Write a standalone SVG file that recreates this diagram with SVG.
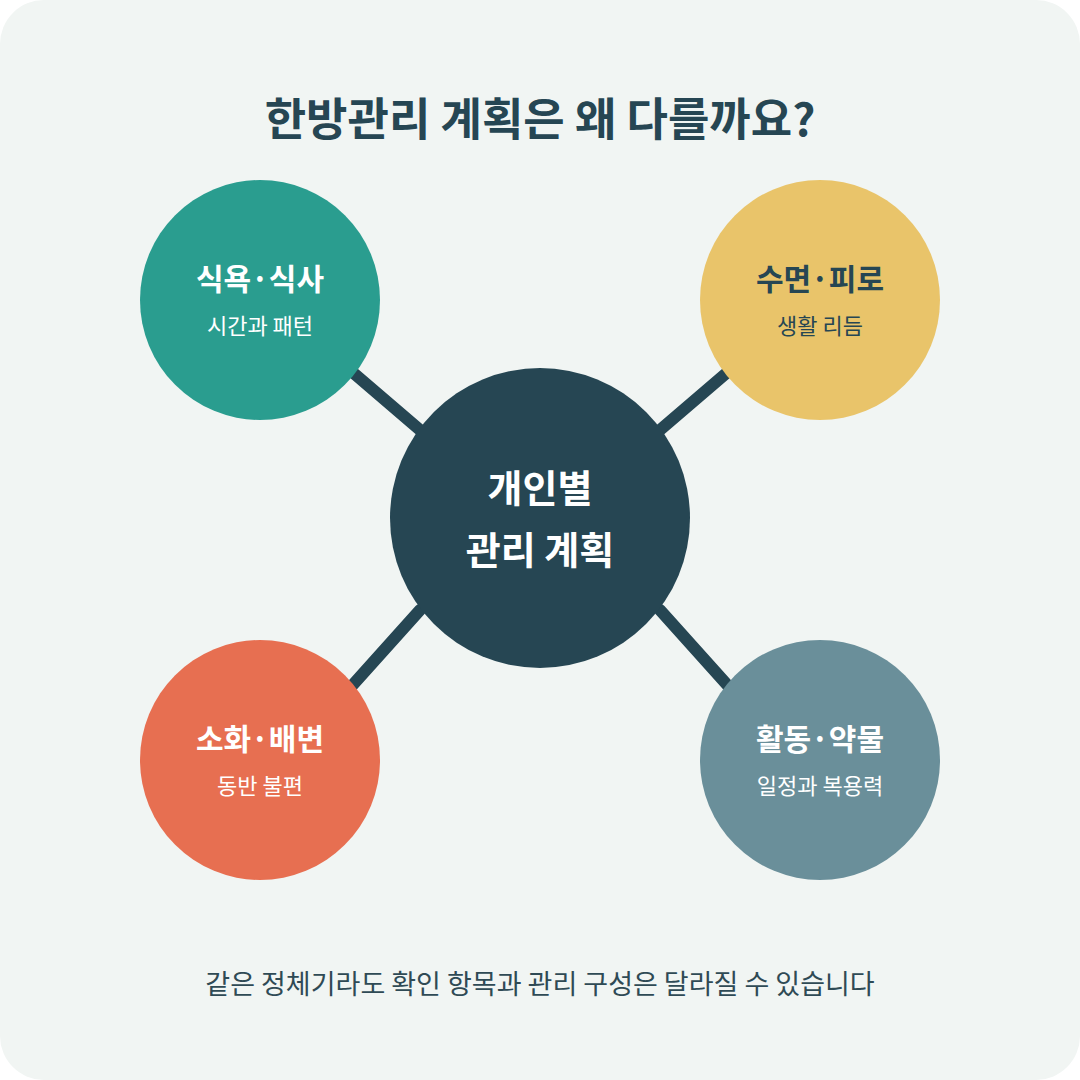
<svg xmlns="http://www.w3.org/2000/svg" width="1080" height="1080" viewBox="0 0 1080 1080">
<style>
text{font-family:"Noto Sans CJK KR","Noto Sans",sans-serif;text-anchor:middle}
.t{font-size:30px;font-weight:700}
.s{font-size:22px}
.w{fill:#fff}
.d{fill:#264653}
</style>
<rect width="1080" height="1080" fill="#fff"/>
<rect width="1080" height="1080" rx="44" fill="#f1f5f3"/>
<text x="540" y="136" font-size="45" font-weight="700" fill="#264653">한방관리 계획은 왜 다를까요?</text>
<g id="connectors" stroke="#264653" stroke-width="12" stroke-linecap="round">
<line x1="350" y1="370" x2="420" y2="430"/>
<line x1="730" y1="370" x2="660" y2="430"/>
<line x1="350" y1="688" x2="420" y2="610"/>
<line x1="730" y1="688" x2="660" y2="610"/>
</g>
<g id="center"><circle cx="540" cy="518" r="150" fill="#264653"/>
<text x="540" y="502" font-size="38" font-weight="700" class="w">개인별</text>
<text x="540" y="564" font-size="38" font-weight="700" class="w">관리 계획</text></g>
<g id="n1"><circle cx="260" cy="300" r="120" fill="#2a9d8f"/>
<text x="260" y="290" class="t w">식욕·식사</text><text x="260" y="334" class="s w">시간과 패턴</text></g>
<g id="n2"><circle cx="820" cy="300" r="120" fill="#e9c46a"/>
<text x="820" y="290" class="t d">수면·피로</text><text x="820" y="334" class="s d">생활 리듬</text></g>
<g id="n3"><circle cx="260" cy="760" r="120" fill="#e76f51"/>
<text x="260" y="750" class="t w">소화·배변</text><text x="260" y="794" class="s w">동반 불편</text></g>
<g id="n4"><circle cx="820" cy="760" r="120" fill="#6a8f9a"/>
<text x="820" y="750" class="t w">활동·약물</text><text x="820" y="794" class="s w">일정과 복용력</text></g>
<text x="540" y="994" font-size="27" fill="#2f4a55">같은 정체기라도 확인 항목과 관리 구성은 달라질 수 있습니다</text>
</svg>
